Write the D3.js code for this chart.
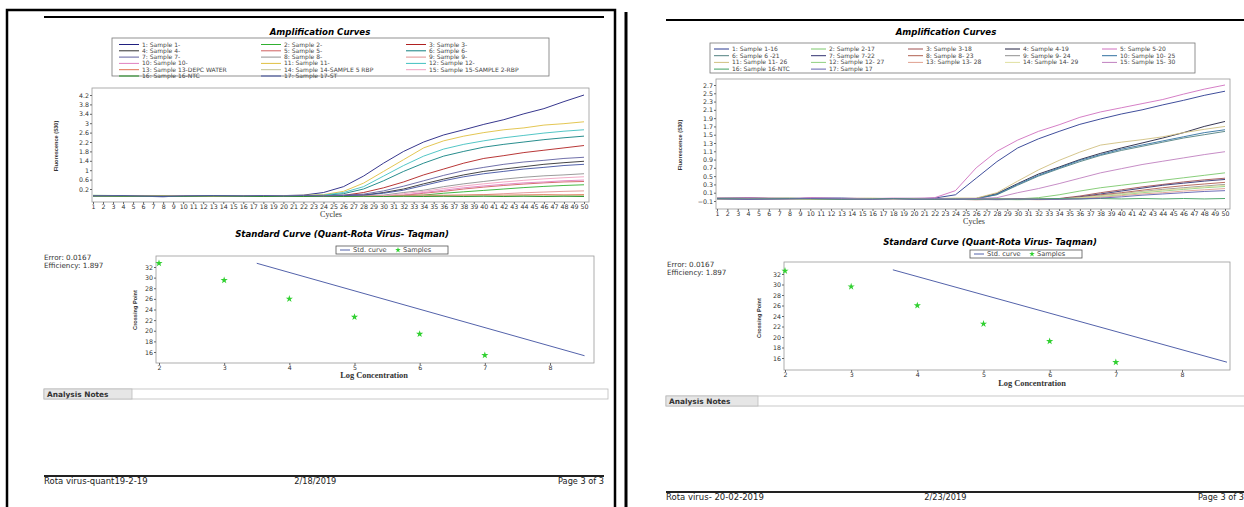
<!DOCTYPE html>
<html>
<head>
<meta charset="utf-8">
<script src="https://cdn.jsdelivr.net/npm/d3@7"></script>
<style>
body{margin:0;background:#fff;}
svg{display:block;font-family:"DejaVu Sans",sans-serif;}
.tick text{font-size:6.3px;fill:#333;font-family:"DejaVu Sans",sans-serif;}
.tick line{stroke:#666;}
</style>
</head>
<body>
<script>
const cycles = [1,4,8,10,13,16,18,20,22,24,26,28,30,32,34,36,38,40,42,44,46,48,50];

// page 1 (19-2-19 run)
const leftNames = ["1: Sample 1-","2: Sample 2-","3: Sample 3-","4: Sample 4-","5: Sample 5-","6: Sample 6-",
	"7: Sample 7-","8: Sample 8-","9: Sample 9-","10: Sample 10-","11: Sample 11-","12: Sample 12-",
	"13: Sample 13-DEPC WATER","14: Sample 14-SAMPLE 5 RBP","15: Sample 15-SAMPLE 2-RBP","16: Sample 16-NTC","17: Sample 17-ST"];
const leftColors = ["#202080","#30b030","#b02020","#303030","#d06060","#108080","#6060a0","#909090","#e09090",
	"#e080c0","#e0c040","#40c0c0","#e07050","#c0c090","#f0a0c0","#209020","#4050a0"];
const leftCurves = [
	[-0.08,-0.09,-0.13,-0.09,-0.08,-0.1,-0.09,-0.08,-0.06,0.05,0.3,0.75,1.3,1.8,2.2,2.5,2.72,2.95,3.15,3.4,3.62,3.92,4.2],
	[-0.07,-0.08,-0.09,-0.08,-0.09,-0.1,-0.09,-0.1,-0.09,-0.1,-0.09,-0.1,-0.09,-0.08,-0.06,0.02,0.08,0.14,0.2,0.26,0.31,0.35,0.38],
	[-0.09,-0.08,-0.1,-0.09,-0.1,-0.08,-0.09,-0.1,-0.09,-0.08,-0.07,0.05,0.25,0.5,0.8,1.05,1.3,1.5,1.62,1.75,1.85,1.95,2.05],
	[-0.08,-0.09,-0.1,-0.08,-0.09,-0.1,-0.09,-0.08,-0.09,-0.09,-0.08,-0.06,0.05,0.2,0.42,0.62,0.8,0.95,1.05,1.15,1.25,1.32,1.38],
	[-0.1,-0.09,-0.08,-0.1,-0.09,-0.08,-0.1,-0.09,-0.1,-0.09,-0.1,-0.09,-0.08,-0.07,0.02,0.1,0.2,0.28,0.35,0.41,0.46,0.5,0.52],
	[-0.08,-0.1,-0.09,-0.08,-0.1,-0.09,-0.08,-0.09,-0.08,-0.07,0.0,0.2,0.55,0.95,1.3,1.6,1.8,1.98,2.1,2.2,2.3,2.38,2.45],
	[-0.09,-0.08,-0.1,-0.09,-0.08,-0.09,-0.1,-0.09,-0.08,-0.08,-0.06,-0.02,0.12,0.32,0.55,0.78,0.98,1.12,1.25,1.35,1.42,1.5,1.55],
	[-0.08,-0.09,-0.08,-0.1,-0.09,-0.08,-0.09,-0.1,-0.09,-0.08,-0.09,-0.08,-0.06,0.05,0.15,0.3,0.42,0.52,0.62,0.7,0.76,0.8,0.85],
	[-0.09,-0.1,-0.09,-0.08,-0.09,-0.1,-0.08,-0.09,-0.1,-0.09,-0.08,-0.09,-0.1,-0.09,-0.08,-0.07,-0.06,-0.04,0.0,0.04,0.07,0.1,0.12],
	[-0.08,-0.09,-0.1,-0.09,-0.08,-0.09,-0.1,-0.08,-0.09,-0.1,-0.09,-0.08,-0.08,-0.06,0.05,0.15,0.25,0.33,0.4,0.46,0.5,0.55,0.58],
	[-0.1,-0.09,-0.08,-0.09,-0.1,-0.08,-0.09,-0.08,-0.07,-0.04,0.1,0.45,0.95,1.45,1.95,2.25,2.45,2.6,2.72,2.8,2.92,2.98,3.06],
	[-0.09,-0.08,-0.09,-0.1,-0.08,-0.09,-0.08,-0.09,-0.08,-0.06,0.05,0.3,0.75,1.2,1.6,1.9,2.1,2.25,2.38,2.48,2.58,2.66,2.72],
	[-0.08,-0.09,-0.08,-0.09,-0.1,-0.09,-0.08,-0.09,-0.08,-0.09,-0.08,-0.07,-0.08,-0.07,-0.06,-0.07,-0.06,-0.05,-0.06,-0.05,-0.04,-0.05,-0.04],
	[-0.1,-0.09,-0.1,-0.09,-0.1,-0.09,-0.1,-0.09,-0.1,-0.1,-0.09,-0.1,-0.09,-0.1,-0.09,-0.1,-0.09,-0.08,-0.09,-0.08,-0.09,-0.08,-0.08],
	[-0.09,-0.1,-0.09,-0.08,-0.09,-0.1,-0.09,-0.1,-0.09,-0.1,-0.09,-0.1,-0.09,0.0,0.1,0.22,0.33,0.42,0.5,0.57,0.63,0.68,0.72],
	[-0.1,-0.11,-0.1,-0.11,-0.1,-0.11,-0.12,-0.11,-0.12,-0.11,-0.12,-0.11,-0.12,-0.11,-0.12,-0.11,-0.12,-0.11,-0.12,-0.11,-0.12,-0.11,-0.12],
	[-0.09,-0.08,-0.12,-0.09,-0.08,-0.09,-0.08,-0.09,-0.08,-0.09,-0.08,-0.06,0.02,0.15,0.35,0.55,0.72,0.85,0.95,1.05,1.12,1.2,1.25]
];
const leftTicks = [0.2,0.6,1,1.4,1.8,2.2,2.6,3,3.4,3.8,4.2];

// page 2 (20-02-2019 run)
const rightNames = ["1: Sample 1-16","2: Sample 2-17","3: Sample 3-18","4: Sample 4-19","5: Sample 5-20",
	"6: Sample 6 -21","7: Sample 7-22","8: Sample 8- 23","9: Sample 9- 24","10: Sample 10- 25",
	"11: Sample 11- 26","12: Sample 12- 27","13: Sample 13- 28","14: Sample 14- 29","15: Sample 15- 30",
	"16: Sample 16-NTC","17: Sample 17"];
const rightColors = ["#2a3a90","#7cc86c","#a05050","#202040","#d070c0","#508080","#303070","#b06050","#909090",
	"#3070a0","#d0c080","#90d080","#e0a090","#e0e0a0","#c080c0","#40a060","#6060b0"];
const rightCurves = [
	[-0.04,-0.03,-0.05,-0.03,-0.04,-0.05,-0.04,-0.05,-0.03,0.05,0.45,0.85,1.18,1.4,1.58,1.75,1.88,2.0,2.1,2.22,2.33,2.45,2.55],
	[-0.04,-0.03,-0.05,-0.04,-0.05,-0.04,-0.05,-0.04,-0.05,-0.06,-0.05,-0.06,-0.05,-0.02,0.05,0.14,0.22,0.28,0.34,0.4,0.46,0.52,0.58],
	[-0.05,-0.04,-0.05,-0.04,-0.05,-0.04,-0.05,-0.06,-0.05,-0.06,-0.05,-0.06,-0.05,-0.06,-0.04,0.02,0.1,0.17,0.24,0.3,0.36,0.41,0.45],
	[-0.04,-0.03,-0.04,-0.05,-0.04,-0.05,-0.04,-0.05,-0.04,-0.05,-0.04,0.08,0.32,0.55,0.72,0.9,1.05,1.18,1.3,1.42,1.55,1.7,1.82],
	[-0.03,-0.02,-0.04,-0.02,-0.03,-0.04,-0.03,-0.04,-0.02,0.15,0.7,1.1,1.37,1.58,1.74,1.92,2.05,2.15,2.25,2.35,2.48,2.6,2.7],
	[-0.04,-0.05,-0.03,-0.04,-0.05,-0.04,-0.05,-0.04,-0.05,-0.05,-0.04,0.05,0.28,0.5,0.68,0.85,1.0,1.12,1.22,1.32,1.42,1.5,1.58],
	[-0.04,-0.05,-0.04,-0.05,-0.04,-0.05,-0.04,-0.05,-0.06,-0.05,-0.06,-0.05,-0.06,-0.05,-0.05,0.0,0.07,0.14,0.21,0.28,0.33,0.38,0.42],
	[-0.05,-0.04,-0.05,-0.04,-0.05,-0.06,-0.05,-0.06,-0.05,-0.06,-0.07,-0.06,-0.05,-0.06,-0.05,-0.01,0.05,0.1,0.16,0.22,0.27,0.31,0.35],
	[-0.04,-0.05,-0.06,-0.05,-0.04,-0.05,-0.06,-0.05,-0.06,-0.05,-0.06,-0.07,-0.06,-0.05,-0.05,-0.02,0.03,0.08,0.13,0.18,0.22,0.26,0.3],
	[-0.03,-0.04,-0.05,-0.04,-0.03,-0.05,-0.04,-0.05,-0.05,-0.04,-0.05,0.06,0.3,0.52,0.7,0.88,1.02,1.15,1.25,1.35,1.45,1.55,1.62],
	[-0.03,-0.04,-0.03,-0.05,-0.04,-0.03,-0.05,-0.04,-0.04,-0.03,-0.03,0.1,0.38,0.65,0.88,1.08,1.25,1.32,1.38,1.45,1.55,1.63,1.7],
	[-0.05,-0.04,-0.05,-0.06,-0.05,-0.04,-0.05,-0.06,-0.05,-0.06,-0.05,-0.06,-0.07,-0.06,-0.06,-0.03,0.01,0.05,0.1,0.14,0.18,0.22,0.25],
	[-0.04,-0.05,-0.04,-0.06,-0.05,-0.06,-0.05,-0.04,-0.06,-0.05,-0.06,-0.05,-0.06,-0.07,-0.06,-0.04,-0.01,0.03,0.07,0.1,0.14,0.17,0.2],
	[-0.05,-0.04,-0.06,-0.05,-0.04,-0.05,-0.06,-0.05,-0.04,-0.05,-0.06,-0.05,-0.06,-0.05,-0.05,-0.02,0.02,0.07,0.12,0.16,0.2,0.24,0.28],
	[-0.03,-0.04,-0.05,-0.03,-0.04,-0.05,-0.04,-0.03,-0.04,-0.05,-0.04,-0.02,0.1,0.2,0.32,0.45,0.58,0.68,0.78,0.86,0.94,1.02,1.09],
	[-0.04,-0.05,-0.04,-0.05,-0.06,-0.05,-0.04,-0.05,-0.06,-0.05,-0.06,-0.05,-0.06,-0.05,-0.04,-0.05,-0.04,-0.05,-0.04,-0.05,-0.04,-0.05,-0.04],
	[-0.05,-0.06,-0.05,-0.04,-0.05,-0.06,-0.05,-0.06,-0.05,-0.06,-0.05,-0.06,-0.05,-0.06,-0.06,-0.05,-0.03,0.0,0.04,0.07,0.1,0.13,0.15]
];
const rightTicks = [-0.1,0.1,0.3,0.5,0.7,0.9,1.1,1.3,1.5,1.7,1.9,2.1,2.3,2.5,2.7];

// standard curve (both runs)
const logConc = [2,3,4,5,6,7];
const cpLeft = [32.7,29.5,26.0,22.6,19.4,15.4];
const cpRight = [32.6,29.6,26.0,22.5,19.2,15.2];
const stdLineLeft = [[3.5,32.7],[8.53,15.3]];
const stdLineRight = [[3.63,32.8],[8.68,15.2]];
const cpTicks = [16,18,20,22,24,26,28,30,32];
const logTicks = [2,3,4,5,6,7,8];

const pageLeft = {
	names:leftNames, colors:leftColors, curves:leftCurves, ticks:leftTicks,
	cp:cpLeft, stdLine:stdLineLeft,
	footer:["Rota virus-quant19-2-19","2/18/2019","Page 3 of 3"]
};
const pageRight = {
	names:rightNames, colors:rightColors, curves:rightCurves, ticks:rightTicks,
	cp:cpRight, stdLine:stdLineRight,
	footer:["Rota virus- 20-02-2019","2/23/2019","Page 3 of 3"]
};

// layout of each page as it sits on the scan
const layoutLeft = {
	left:44, right:604, topLine:17,
	title:[320,35],
	legend:{x:112,y:38,w:437,h:38,cols:[119,261,406],row0:44.5,rowStep:6.3,line:20},
	amp:{x0:92,x1:589,y0:88,y1:202,c1:93,c50:584,v0:0.2,py0:189,v1:4.2,py1:95},
	ampYLabel:[58,146], cyclesLabel:[331,217],
	stdTitle:[342,237], stdLegend:[336,246],
	err:[44,260],
	std:{x0:156,x1:594,y0:256,y1:363,l0:159,l8:550,py16:352,py32:267},
	cpLabel:[137,310], logLabel:[374,378],
	notes:[389,132], footY:476, footClip:155
};
const layoutRight = {
	left:666, right:1244, topLine:20,
	title:[946,35],
	legend:{x:710,y:43,w:485,h:30,cols:[714,811,908,1005,1102],row0:49,rowStep:6.7,line:15},
	amp:{x0:716,x1:1230,y0:79,y1:209,c1:717,c50:1225,v0:-0.1,py0:201,v1:2.7,py1:85},
	ampYLabel:[682,145], cyclesLabel:[974,224],
	stdTitle:[990,245], stdLegend:[970,250],
	err:[667,267],
	std:{x0:784,x1:1230,y0:262,y1:370,l0:785,l8:1182,py16:358,py32:274},
	cpLabel:[761,318], logLabel:[1032,386],
	notes:[396,758], footY:492, footClip:777
};

const width = 1244, height = 507;
let svg = d3.select("body").append("svg")
	.attr("width",width)
	.attr("height",height);

svg.append("rect").attr("width",width).attr("height",height).attr("fill","#fff");

// scanned page edges
svg.append("rect")
	.attr("x",7).attr("y",10).attr("width",608).attr("height",520)
	.attr("fill","none").attr("stroke","#000").attr("stroke-width",2.5);
svg.append("line")
	.attr("x1",626).attr("x2",626).attr("y1",12).attr("y2",height)
	.attr("stroke","#000").attr("stroke-width",3);

drawPage(pageLeft,layoutLeft);
drawPage(pageRight,layoutRight);

function drawPage(p,L){
	let g = svg.append("g");

	g.append("line")
		.attr("x1",L.left).attr("x2",L.right)
		.attr("y1",L.topLine).attr("y2",L.topLine)
		.attr("stroke","#000").attr("stroke-width",2);

	g.append("text")
		.attr("x",L.title[0]).attr("y",L.title[1])
		.attr("text-anchor","middle")
		.style("font-size","8.6px").style("font-weight","bold").style("font-style","italic")
		.text("Amplification Curves");

	drawLegend(g,p,L.legend);
	drawAmp(g,p,L);
	drawStd(g,p,L);

	//analysis notes bar
	g.append("rect")
		.attr("x",L.left).attr("y",L.notes[0])
		.attr("width",L.right-L.left+4).attr("height",10)
		.attr("fill","#fff").attr("stroke","#bbb").attr("stroke-width",0.8);
	g.append("rect")
		.attr("x",L.left).attr("y",L.notes[0])
		.attr("width",L.notes[1]-L.left).attr("height",10)
		.attr("fill","#e6e6e6").attr("stroke","#bbb").attr("stroke-width",0.8);
	g.append("text")
		.attr("x",L.left+3).attr("y",L.notes[0]+7.8)
		.style("font-size","7.4px").style("font-weight","bold").attr("fill","#333")
		.text("Analysis Notes");

	//footer
	g.append("line")
		.attr("x1",L.left).attr("x2",L.right)
		.attr("y1",L.footY).attr("y2",L.footY)
		.attr("stroke","#222").attr("stroke-width",1.8);
	let fy = L.footY+8;
	let cid = "foot"+L.left;
	g.append("clipPath").attr("id",cid)
		.append("rect").attr("x",L.left).attr("y",L.footY).attr("width",L.footClip-L.left).attr("height",12);
	g.append("text").attr("x",L.left).attr("y",fy)
		.attr("clip-path","url(#"+cid+")")
		.style("font-size","8.5px").attr("fill","#222").text(p.footer[0]);
	g.append("text").attr("x",L.left+(L.right-L.left)*0.447).attr("y",fy)
		.style("font-size","8.2px").attr("fill","#222").text(p.footer[1]);
	g.append("text").attr("x",L.right).attr("y",fy)
		.attr("text-anchor","end")
		.style("font-size","8.2px").attr("fill","#222").text(p.footer[2]);
}

function drawLegend(g,p,lg){
	g.append("rect")
		.attr("x",lg.x).attr("y",lg.y).attr("width",lg.w).attr("height",lg.h)
		.attr("fill","#fff").attr("stroke","#777").attr("stroke-width",0.8);
	let n = lg.cols.length;
	let items = g.selectAll(".leg"+n)
		.data(p.names)
		.enter().append("g")
		.attr("transform",function(d,i){
			return "translate("+lg.cols[i%n]+","+(lg.row0+Math.floor(i/n)*lg.rowStep)+")";
		});
	items.append("line")
		.attr("x1",0).attr("x2",lg.line).attr("y1",0).attr("y2",0)
		.attr("stroke",function(d,i){return p.colors[i];})
		.attr("stroke-width",1);
	items.append("text")
		.attr("x",lg.line+3).attr("y",2)
		.style("font-size","6px").attr("fill","#444")
		.text(function(d){return d;});
}

function drawAmp(g,p,L){
	let a = L.amp;
	let x = d3.scaleLinear().domain([1,50]).range([a.c1,a.c50]);
	let y = d3.scaleLinear().domain([a.v0,a.v1]).range([a.py0,a.py1]);

	g.append("rect")
		.attr("x",a.x0).attr("y",a.y0).attr("width",a.x1-a.x0).attr("height",a.y1-a.y0)
		.attr("fill","#fff").attr("stroke","#999").attr("stroke-width",0.8);

	g.append("g")
		.attr("transform","translate("+a.x0+",0)")
		.call(d3.axisLeft(y).tickValues(p.ticks).tickSize(2).tickPadding(1)
			.tickFormat(function(d){return d3.format("~g")(d);}))
		.call(function(s){s.select(".domain").remove();});

	g.append("g")
		.attr("transform","translate(0,"+a.y1+")")
		.call(d3.axisBottom(x).tickValues(d3.range(1,51)).tickSize(2).tickPadding(1))
		.call(function(s){s.select(".domain").remove();});

	let line = d3.line()
		.x(function(d,i){return x(cycles[i]);})
		.y(function(d){return y(d);});

	let clipId = "clip"+a.x0;
	g.append("clipPath").attr("id",clipId)
		.append("rect").attr("x",a.x0).attr("y",a.y0).attr("width",a.x1-a.x0).attr("height",a.y1-a.y0);

	g.append("g").attr("clip-path","url(#"+clipId+")")
		.selectAll("path")
		.data(p.curves)
		.enter().append("path")
			.attr("d",line)
			.attr("fill","none")
			.attr("stroke",function(d,i){return p.colors[i];})
			.attr("stroke-width",0.9);

	g.append("text")
		.attr("transform","translate("+L.ampYLabel[0]+","+L.ampYLabel[1]+") rotate(-90)")
		.attr("text-anchor","middle")
		.style("font-family","'Liberation Sans',sans-serif")
		.style("font-size","5.6px").style("font-weight","bold").attr("fill","#333")
		.text("Fluorescence (530)");
	g.append("text")
		.attr("x",L.cyclesLabel[0]).attr("y",L.cyclesLabel[1])
		.attr("text-anchor","middle")
		.style("font-family","'Liberation Serif',serif").style("font-size","8px").attr("fill","#333")
		.text("Cycles");
}

function drawStd(g,p,L){
	let s = L.std;
	let x = d3.scaleLinear().domain([2,8]).range([s.l0,s.l8]);
	let y = d3.scaleLinear().domain([16,32]).range([s.py16,s.py32]);

	g.append("text")
		.attr("x",L.stdTitle[0]).attr("y",L.stdTitle[1])
		.attr("text-anchor","middle")
		.style("font-size","8.6px").style("font-weight","bold").style("font-style","italic")
		.text("Standard Curve (Quant-Rota Virus- Taqman)");

	//small legend
	let lg = g.append("g").attr("transform","translate("+L.stdLegend[0]+","+L.stdLegend[1]+")");
	lg.append("rect").attr("width",112).attr("height",8)
		.attr("fill","#fff").attr("stroke","#555").attr("stroke-width",0.8);
	lg.append("line").attr("x1",4).attr("x2",14).attr("y1",4).attr("y2",4)
		.attr("stroke","#4050a0").attr("stroke-width",0.9);
	lg.append("text").attr("x",17).attr("y",6.4)
		.style("font-size","6.6px").attr("fill","#444").text("Std. curve");
	lg.append("path")
		.attr("transform","translate(62,4)")
		.attr("d",d3.symbol(d3.symbolStar,10)())
		.attr("fill","#30d030");
	lg.append("text").attr("x",67).attr("y",6.4)
		.style("font-size","6.6px").attr("fill","#444").text("Samples");

	g.append("text").attr("x",L.err[0]).attr("y",L.err[1])
		.style("font-size","7.2px").attr("fill","#333").text("Error: 0.0167");
	g.append("text").attr("x",L.err[0]).attr("y",L.err[1]+8)
		.style("font-size","7.2px").attr("fill","#333").text("Efficiency: 1.897");

	g.append("rect")
		.attr("x",s.x0).attr("y",s.y0).attr("width",s.x1-s.x0).attr("height",s.y1-s.y0)
		.attr("fill","#fff").attr("stroke","#999").attr("stroke-width",0.8);

	g.append("g")
		.attr("transform","translate("+s.x0+",0)")
		.call(d3.axisLeft(y).tickValues(cpTicks).tickSize(2).tickPadding(1))
		.call(function(a){a.select(".domain").remove();});
	g.append("g")
		.attr("transform","translate(0,"+s.y1+")")
		.call(d3.axisBottom(x).tickValues(logTicks).tickSize(2).tickPadding(1).tickFormat(d3.format("d")))
		.call(function(a){a.select(".domain").remove();});

	g.append("path")
		.datum(p.stdLine)
		.attr("d",d3.line().x(function(d){return x(d[0]);}).y(function(d){return y(d[1]);}))
		.attr("fill","none").attr("stroke","#4050a0").attr("stroke-width",0.9);

	g.selectAll(".pt"+s.x0)
		.data(p.cp)
		.enter().append("path")
			.attr("transform",function(d,i){return "translate("+x(logConc[i])+","+y(d)+")";})
			.attr("d",d3.symbol(d3.symbolStar,16)())
			.attr("fill","#30d030");

	g.append("text")
		.attr("transform","translate("+L.cpLabel[0]+","+L.cpLabel[1]+") rotate(-90)")
		.attr("text-anchor","middle")
		.style("font-family","'Liberation Sans',sans-serif")
		.style("font-size","5.6px").style("font-weight","bold").attr("fill","#333")
		.text("Crossing Point");
	g.append("text")
		.attr("x",L.logLabel[0]).attr("y",L.logLabel[1])
		.attr("text-anchor","middle")
		.style("font-family","'Liberation Serif',serif").style("font-size","8.4px").style("font-weight","bold").attr("fill","#333")
		.text("Log Concentration");
}
</script>
</body>
</html>
